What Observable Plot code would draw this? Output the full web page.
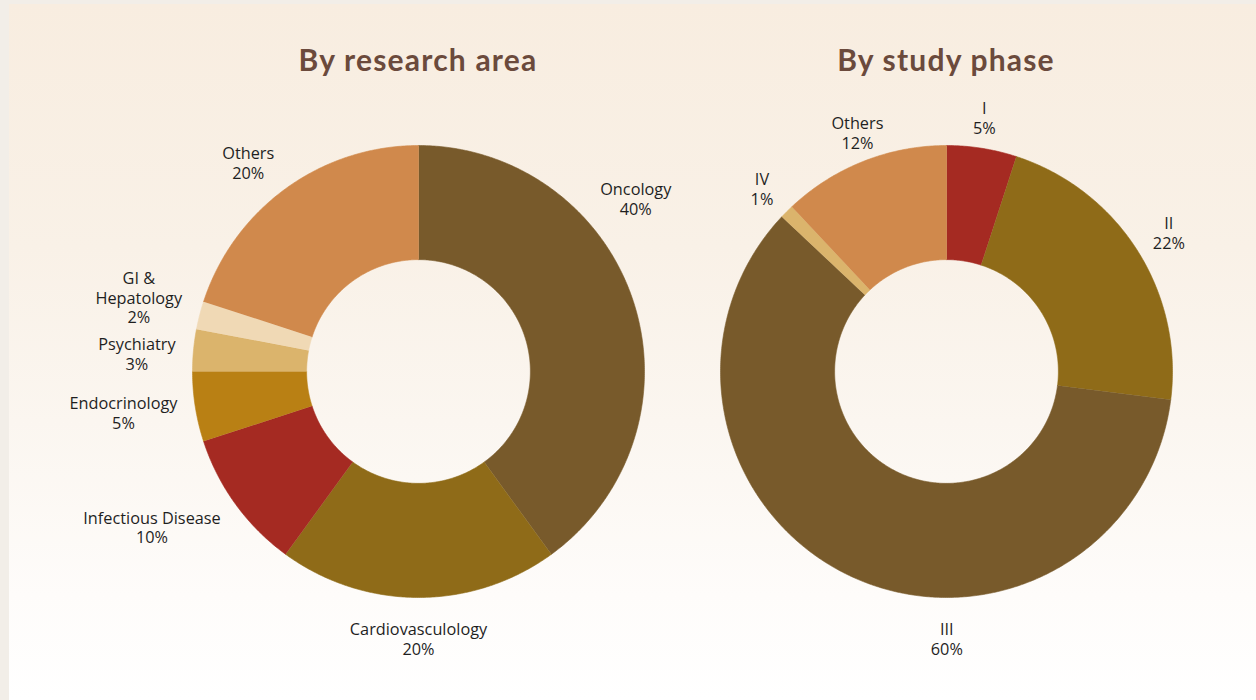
<!DOCTYPE html>
<html>
<head>
<meta charset="utf-8">
<script src="https://cdn.jsdelivr.net/npm/d3@7"></script>
<script src="https://cdn.jsdelivr.net/npm/@observablehq/plot@0.6"></script>
<style>
  html, body { margin: 0; padding: 0; }
  body { width: 1256px; height: 700px; overflow: hidden; position: relative; background: #f2eee8; font-family: "Open Sans", sans-serif; }
  #panel { position: absolute; left: 9px; top: 4px; right: 0; bottom: 0;
    background: linear-gradient(to bottom, #f8ede0 0%, #f9f1e7 35%, #fbf6f0 60%, #fefcfa 85%, #ffffff 100%); }
  .title { position: absolute; top: 41px; width: 528px; text-align: center; font-family: "Lato", sans-serif; font-weight: 700; font-size: 30px; color: #6b4a3c; letter-spacing: 1.2px; }
  .chart { position: absolute; top: 71px; }
</style>
</head>
<body>
<div id="panel"></div>
<div class="title" style="left:154px">By research area</div>
<div class="title" style="left:682px">By study phase</div>
<div class="chart" id="left" style="left:154px"></div>
<div class="chart" id="right" style="left:682px"></div>
<script>
// ---- data ----
const areas = ["Oncology", "Cardiovasculology", "Infectious Disease", "Endocrinology", "Psychiatry", "GI & Hepatology", "Others"];
const areaLabels = ["Oncology", "Cardiovasculology", "Infectious Disease", "Endocrinology", "Psychiatry", "GI &\nHepatology", "Others"];
const areaShares = [40, 20, 10, 5, 3, 2, 20];

const phases = ["I", "II", "III", "IV", "Others"];
const phaseLabels = ["I", "II", "III", "IV", "Others"];
const phaseShares = [5, 22, 60, 1, 12];

// ---- styles / layout ----
const areaColors = ["#785a2b", "#8f6b18", "#a52a22", "#b98014", "#dbb46c", "#f0d9b5", "#d0894c"];
const phaseColors = ["#a52a22", "#8f6b18", "#785a2b", "#dbb46c", "#d0894c"];
// position of label along each slice (0 = start, 1 = end)
const areaLabelAt = [0.333, 0.5, 0.5, 0.5, 0.5, 0.5, 0.5];
const phaseLabelAt = [0.5, 0.5, 0.383, 0.5, 0.5];

const W = 528, H = 600, PX = 226; // px per unit radius
const FONT_SIZE = 16.3, FONT = "Open Sans", LINE_H = 1.22;

const ctx = document.createElement("canvas").getContext("2d");
ctx.font = `${FONT_SIZE}px "${FONT}"`;
const textWidth = s => Math.max(...s.split("\n").map(l => ctx.measureText(l).width));

function donut(cats, labels, values, colors, labelAt) {
  const arcs = d3.pie().sort(null).value(d => d)(values);
  const R = 1, r = 0.495, RL = 242 / PX;
  const pts = [];
  arcs.forEach((a, i) => {
    const n = Math.max(2, Math.ceil((a.endAngle - a.startAngle) / (Math.PI / 360)));
    for (let k = 0; k <= n; k++) {
      const t = a.startAngle + (a.endAngle - a.startAngle) * k / n;
      pts.push({cat: cats[i], x: R * Math.sin(t), y: R * Math.cos(t)});
    }
    for (let k = n; k >= 0; k--) {
      const t = a.startAngle + (a.endAngle - a.startAngle) * k / n;
      pts.push({cat: cats[i], x: r * Math.sin(t), y: r * Math.cos(t)});
    }
  });
  // label placement in pixel offsets from the centre (y down)
  const labs = arcs.map((a, i) => {
    const t = a.startAngle + (a.endAngle - a.startAngle) * labelAt[i];
    const s = Math.sin(t), c = Math.cos(t);
    const text = `${labels[i]}\n${values[i]}%`;
    const nLines = text.split("\n").length;
    const halfH = nLines * FONT_SIZE * LINE_H / 2;
    let px = RL * PX * s, py = -RL * PX * c - c * halfH + 5 * c * c;
    if (Math.abs(s) >= 0.5) px += Math.sign(s) * (textWidth(text) / 2 + 2);
    return {px, py, halfH, side: s < 0 ? -1 : 1, text};
  });
  // resolve vertical overlaps among labels on the same side
  for (const side of [-1, 1]) {
    const group = labs.filter(d => d.side === side).sort((a, b) => a.py - b.py);
    for (let iter = 0; iter < 20; iter++) {
      for (let k = 1; k < group.length; k++) {
        const a = group[k - 1], b = group[k];
        const need = a.halfH + b.halfH + 7;
        const gap = b.py - a.py;
        if (gap < need && Math.abs(a.px - b.px) < 120) {
          const push = (need - gap) / 2;
          a.py -= push; b.py += push;
        }
      }
    }
  }
  const labData = labs.map(d => ({x: d.px / PX, y: -d.py / PX, text: d.text}));
  return Plot.plot({
    width: W, height: H, margin: 0,
    style: {background: "transparent", overflow: "visible"},
    x: {domain: [-W / 2 / PX, W / 2 / PX], axis: null},
    y: {domain: [-H / 2 / PX, H / 2 / PX], axis: null},
    color: {domain: cats, range: colors},
    marks: [
      Plot.line(pts, {x: "x", y: "y", z: "cat", fill: "cat", stroke: "cat", strokeWidth: 0.6}),
      Plot.text(labData, {x: "x", y: "y", text: "text", textAnchor: "middle", lineAnchor: "middle",
        lineHeight: LINE_H, fontSize: FONT_SIZE, fontFamily: FONT, fill: "#1f1f1f"})
    ]
  });
}

document.getElementById("left").append(donut(areas, areaLabels, areaShares, areaColors, areaLabelAt));
document.getElementById("right").append(donut(phases, phaseLabels, phaseShares, phaseColors, phaseLabelAt));
</script>
</body>
</html>
